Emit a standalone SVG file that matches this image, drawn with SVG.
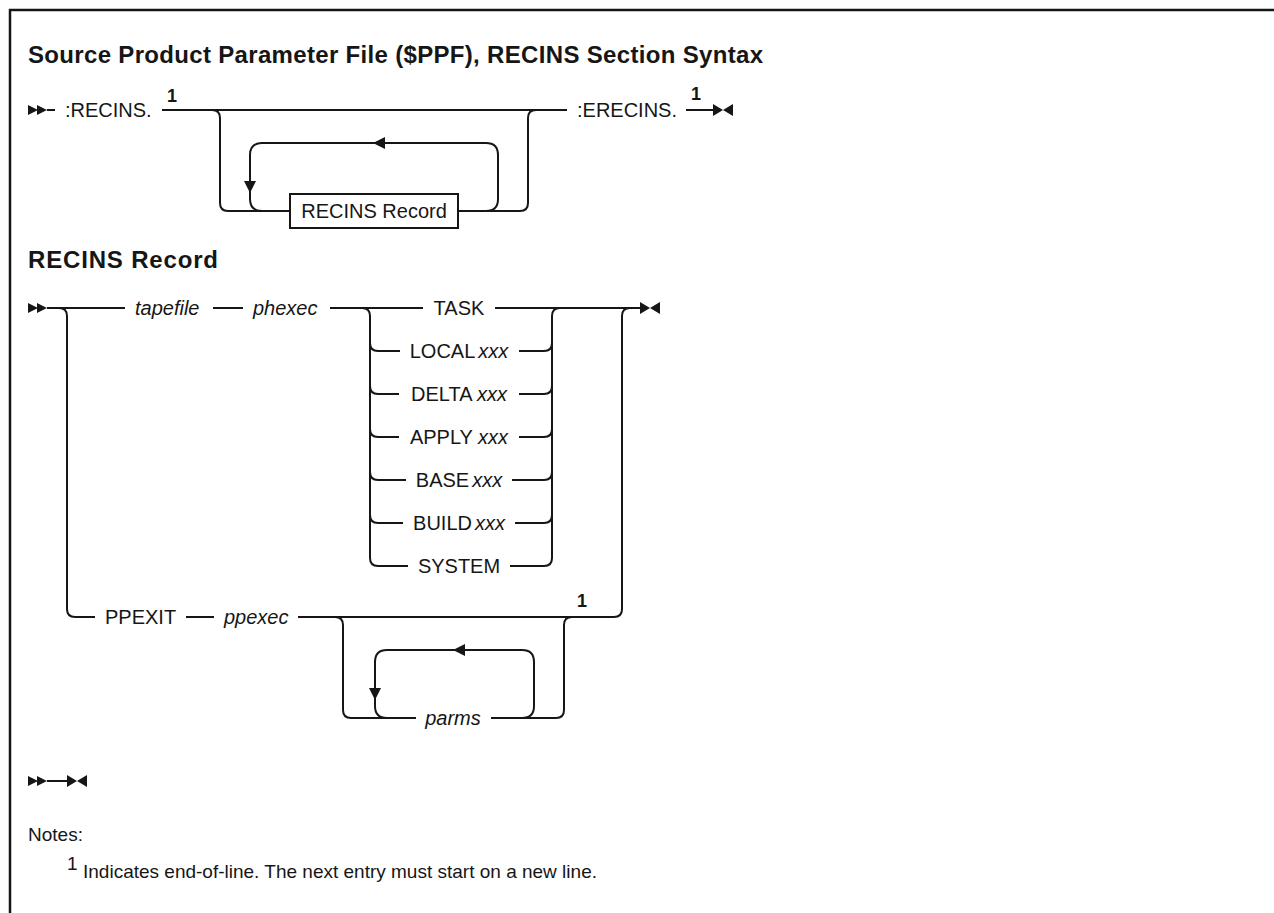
<svg xmlns="http://www.w3.org/2000/svg" width="1274" height="913" viewBox="0 0 1274 913">
<style>
.t{font-family:"Liberation Sans",Arial,sans-serif;font-size:20px;fill:#161616}
.i{font-style:italic}
.h{font-family:"Liberation Sans",Arial,sans-serif;font-size:24px;font-weight:bold;fill:#161616}
.sup{font-family:"Liberation Sans",Arial,sans-serif;font-size:18px;font-weight:bold;fill:#161616;text-anchor:middle}
.n{font-family:"Liberation Sans",Arial,sans-serif;font-size:19px;fill:#161616}
.c{text-anchor:middle}
.ln{fill:none;stroke:#161616;stroke-width:2}
.ah{fill:#161616}
</style>
<defs>
<path id="arrowL" d="M0,0 L12,-6 L12,6 Z"/>
<path id="arrowD" d="M0,0 L-6,-12 L6,-12 Z"/>
<path id="startMark" d="M0,-5 L10,0 L0,5 Z M9,-5 L19,0 L9,5 Z"/>
<path id="endMark" d="M0,-6 L10,0 L0,6 Z M20,-6 L10,0 L20,6 Z"/>
</defs>
<rect x="10" y="10" width="1300" height="1000" fill="none" stroke="#161616" stroke-width="2.5"/>
<g id="title"><text class="h" x="28" y="63" textLength="735" lengthAdjust="spacing">Source Product Parameter File ($PPF), RECINS Section Syntax</text></g>
<g id="heading-record"><text class="h" x="28" y="268" textLength="190" lengthAdjust="spacing">RECINS Record</text></g>

<g id="connectors">
<use href="#startMark" class="ah" x="28" y="110"/>
<path class="ln" d="M47,110 L55,110"/>
<path class="ln" d="M162,110 L567,110"/>
<path class="ln" d="M212,110 Q220,110 220,118 L220,203 Q220,211 228,211 L290,211"/>
<path class="ln" d="M458,211 L520,211 Q528,211 528,203 L528,118 Q528,110 536,110"/>
<path class="ln" d="M458,211 L486,211 Q498,211 498,199 L498,155 Q498,143 486,143 L262,143 Q250,143 250,155 L250,199 Q250,211 262,211 L290,211"/>
<use href="#arrowL" class="ah" x="373" y="143"/>
<use href="#arrowD" class="ah" x="250" y="193"/>
<path class="ln" d="M686,110 L713,110"/>
<use href="#endMark" class="ah" x="713" y="110"/>
<use href="#startMark" class="ah" x="28" y="308"/>
<path class="ln" d="M47,308 L125,308 M213,308 L243,308 M330,308 L423,308 M495,308 L640,308"/>
<use href="#endMark" class="ah" x="640" y="308"/>
<path class="ln" d="M362,308 Q370,308 370,316 L370,558 Q370,566 378,566 L408,566"/>
<path class="ln" d="M370,343 Q370,351 378,351 L400,351 M370,386 Q370,394 378,394 L399,394 M370,429 Q370,437 378,437 L399,437 M370,472 Q370,480 378,480 L406,480 M370,515 Q370,523 378,523 L403,523"/>
<path class="ln" d="M510,566 L544,566 Q552,566 552,558 L552,316 Q552,308 560,308"/>
<path class="ln" d="M519,351 L544,351 Q552,351 552,343 M519,394 L544,394 Q552,394 552,386 M519,437 L544,437 Q552,437 552,429 M512,480 L544,480 Q552,480 552,472 M515,523 L544,523 Q552,523 552,515"/>
<path class="ln" d="M59,308 Q67,308 67,316 L67,609 Q67,617 75,617 L95,617"/>
<path class="ln" d="M186,617 L214,617 M298,617 L614,617 Q622,617 622,609 L622,316 Q622,308 630,308"/>
<path class="ln" d="M335,617 Q343,617 343,625 L343,710 Q343,718 351,718 L416,718"/>
<path class="ln" d="M491,718 L556,718 Q564,718 564,710 L564,625 Q564,617 572,617"/>
<path class="ln" d="M491,718 L522,718 Q534,718 534,706 L534,662 Q534,650 522,650 L387,650 Q375,650 375,662 L375,706 Q375,718 387,718 L416,718"/>
<use href="#arrowL" class="ah" x="453" y="650"/>
<use href="#arrowD" class="ah" x="375" y="700"/>
<use href="#startMark" class="ah" x="28" y="781"/>
<path class="ln" d="M47,781 L67,781"/>
<use href="#endMark" class="ah" x="67" y="781"/>
</g>

<g id="n-recins"><text class="t" x="65" y="117">:RECINS.</text><text class="sup" x="172" y="102">1</text></g>
<g id="n-recins-record"><rect x="290" y="194" width="168" height="34" fill="#fff" stroke="#161616" stroke-width="2"/><text class="t c" x="374" y="218">RECINS Record</text></g>
<g id="n-erecins"><text class="t" x="577" y="117">:ERECINS.</text><text class="sup" x="696" y="100">1</text></g>
<g id="n-tapefile"><text class="t i" x="135" y="315">tapefile</text></g>
<g id="n-phexec"><text class="t i" x="253" y="315">phexec</text></g>
<g id="n-task"><text class="t c" x="459" y="315">TASK</text></g>
<g id="n-local"><text class="t c" x="459" y="358">LOCAL<tspan class="i" dx="3">xxx</tspan></text></g>
<g id="n-delta"><text class="t c" x="459" y="401">DELTA <tspan class="i">xxx</tspan></text></g>
<g id="n-apply"><text class="t c" x="459" y="444">APPLY <tspan class="i">xxx</tspan></text></g>
<g id="n-base"><text class="t c" x="459" y="487">BASE<tspan class="i" dx="3">xxx</tspan></text></g>
<g id="n-build"><text class="t c" x="459" y="530">BUILD<tspan class="i" dx="3">xxx</tspan></text></g>
<g id="n-system"><text class="t c" x="459" y="573">SYSTEM</text></g>
<g id="n-ppexit"><text class="t" x="105" y="624">PPEXIT</text></g>
<g id="n-ppexec"><text class="t i" x="224" y="624">ppexec</text><text class="sup" x="582" y="607">1</text></g>
<g id="n-parms"><text class="t i c" x="453" y="725">parms</text></g>
<g id="notes"><text class="n" x="28" y="841">Notes:</text><text class="n" x="67" y="870" font-size="13">1</text><text class="n" x="83" y="878">Indicates end-of-line. The next entry must start on a new line.</text></g>
</svg>
